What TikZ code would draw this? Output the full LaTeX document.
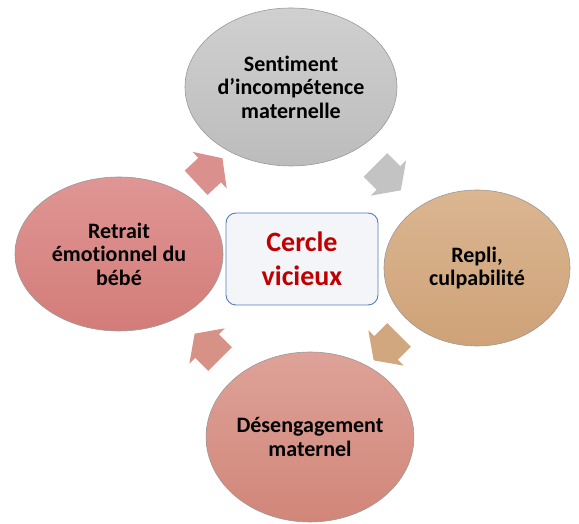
\documentclass[tikz,border=0pt]{standalone}
\usepackage{fontspec}
\setmainfont{Carlito}[Ligatures=NoCommon]
\usepackage{tikz}
\usetikzlibrary{positioning}
\usetikzlibrary{shapes.geometric,shapes.arrows,calc}

\definecolor{grayTop}{RGB}{208,208,208}
\definecolor{grayBot}{RGB}{188,188,188}
\definecolor{roseTop}{RGB}{223,150,148}
\definecolor{roseBot}{RGB}{211,124,121}
\definecolor{tanTop}{RGB}{218,182,145}
\definecolor{tanBot}{RGB}{207,162,120}
\definecolor{salmonTop}{RGB}{222,162,152}
\definecolor{salmonBot}{RGB}{209,134,121}
\definecolor{boxBlue}{RGB}{84,124,184}
\definecolor{boxFill}{RGB}{243,245,249}
\definecolor{cercleRed}{RGB}{192,0,0}

\begin{document}
\begin{tikzpicture}[x=1pt, y=1pt,
ovalnode/.style={ellipse, draw=black!40, line width=0.6pt, inner sep=0pt, align=center, font=\fontsize{22}{23.5}\selectfont\bfseries},
centernode/.style={rectangle, rounded corners=10pt, draw=boxBlue, fill=boxFill, line width=0.9pt, minimum width=152pt, minimum height=92pt, align=center, text=cercleRed, font=\fontsize{28}{34}\selectfont\bfseries},
blockarrow/.style={single arrow, inner xsep=2pt, inner ysep=14pt, minimum height=36pt, minimum width=50pt, single arrow tip angle=110},
]
\useasboundingbox (0,0) rectangle (579,524);

%Nodes
\node[ovalnode, minimum width=212pt, minimum height=158pt, top color=grayTop, bottom color=grayBot] (sentiment) at (291,437) {Sentiment\\d’incompétence\\maternelle};
\node[ovalnode, minimum width=186pt, minimum height=156pt, top color=tanTop, bottom color=tanBot] (repli) at (477,256) {Repli,\\culpabilité};
\node[ovalnode, minimum width=196pt, minimum height=170pt, top color=salmonTop, bottom color=salmonBot] (desengagement) at (310,87) {Désengagement\\maternel};
\node[ovalnode, minimum width=208pt, minimum height=154pt, top color=roseTop, bottom color=roseBot] (retrait) at (119,270) {Retrait\\émotionnel du\\bébé};
\node[centernode] (cercle) at (302,265) {Cercle\\vicieux};

%Arrows
\node[blockarrow, fill=roseBot!85!white, rotate=43] (a1) at ($(retrait)!0.5!(sentiment)+(0,-4)$) {};
\node[blockarrow, fill=grayBot!90!white, rotate=-45] (a2) at ($(sentiment)!0.5!(repli)+(0,4)$) {};
\node[blockarrow, fill=tanBot!95!white, rotate=-135] (a3) at ($(repli)!0.5!(desengagement)+(-3,9)$) {};
\node[blockarrow, fill=salmonBot!90!white, rotate=135] (a4) at ($(desengagement)!0.5!(retrait)+(-3,-5)$) {};
\end{tikzpicture}
\end{document}
